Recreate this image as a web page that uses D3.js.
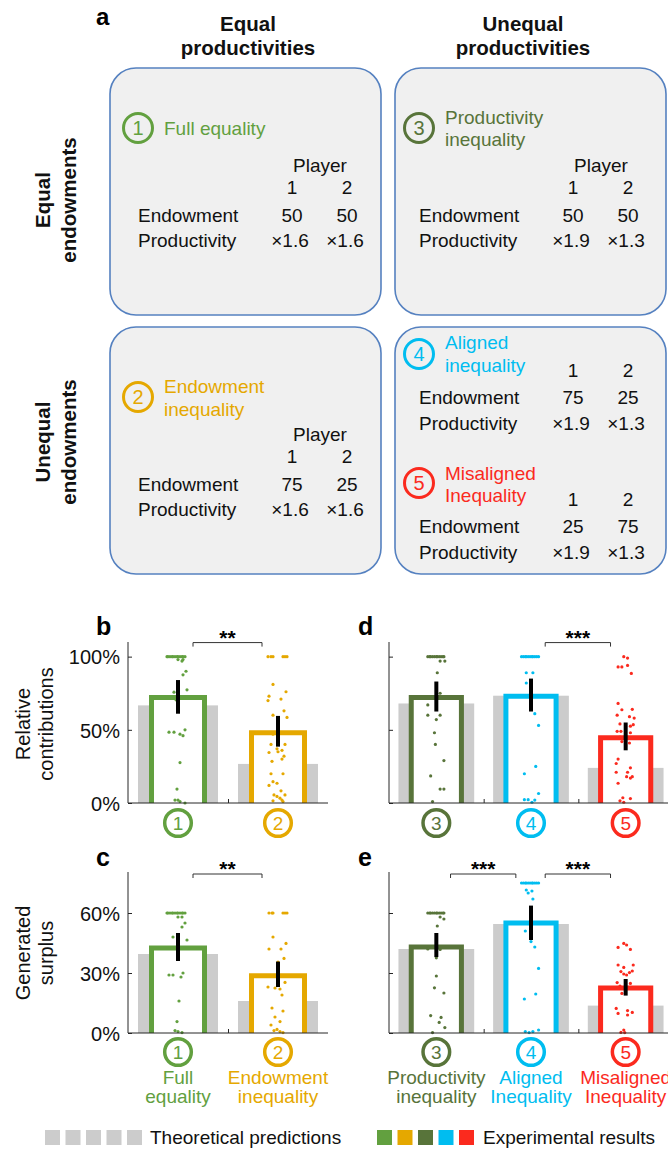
<!DOCTYPE html>
<html><head><meta charset="utf-8">
<script src="https://cdn.jsdelivr.net/npm/d3@7"></script>
<style>
body{margin:0;background:#fff}
svg{display:block;font-family:"Liberation Sans",Arial,sans-serif}
</style></head><body>
<svg id="chart" width="668" height="1151"></svg>
<script>
// ---------- data ----------
const condNumbers = ["1","2","3","4","5"];
const condLabelTop = ["Full","Endowment","Productivity","Aligned","Misaligned"];
const condLabelBottom = ["equality","inequality","inequality","Inequality","Inequality"];
const condColors = ["#62a03f","#e5a800","#58743a","#00bdf0","#fb2a1e"];

const contribTheory = [0.667,0.267,0.68,0.733,0.24];
const contribMean   = [0.72,0.48,0.72,0.73,0.445];
const contribLow    = [0.61,0.385,0.625,0.625,0.36];
const contribHigh   = [0.84,0.595,0.83,0.85,0.55];

const surplusTheory = [0.395,0.16,0.42,0.545,0.137];
const surplusMean   = [0.425,0.286,0.43,0.55,0.225];
const surplusLow    = [0.36,0.23,0.38,0.465,0.187];
const surplusHigh   = [0.50,0.357,0.50,0.637,0.27];

const contribTicks = [0,0.5,1];
const contribTickLabels = ["0%","50%","100%"];
const surplusTicks = [0,0.3,0.6];
const surplusTickLabels = ["0%","30%","60%"];

// individual observations: [value, jitter (category units)]
const contribDots1 = [[1,-0.11],[1,-0.10],[1,-0.08],[1,-0.06],[1,-0.05],[1,-0.03],[1,-0.01],[1,0.0],[1,0.02],[1,0.04],[1,0.05],[1,0.07],[0.98,0.0],[0.97,0.04],[0.98,0.05],[0.90,0.08],[0.876,0.05],[0.757,-0.04],[0.773,0.09],[0.705,-0.02],[0.484,-0.09],[0.484,-0.04],[0.50,0.07],[0.47,0.02],[0.46,0.05],[0.276,0.02],[0.095,-0.01],[0.02,-0.03],[0.02,0.0],[0.01,0.02],[0.0,0.07]];
const contribDots2 = [[1,-0.10],[1,-0.07],[1,-0.05],[1,0.05],[1,0.07],[1,0.09],[0.81,-0.05],[0.76,0.08],[0.73,-0.09],[0.71,0.03],[0.70,-0.10],[0.63,0.06],[0.60,-0.05],[0.585,0.09],[0.47,-0.05],[0.40,-0.07],[0.40,0.07],[0.37,-0.01],[0.36,0.04],[0.35,0.0],[0.345,-0.09],[0.32,0.06],[0.285,-0.06],[0.30,0.04],[0.20,-0.07],[0.20,0.05],[0.146,-0.05],[0.135,-0.01],[0.12,-0.09],[0.083,0.03],[0.055,-0.04],[0.055,0.07],[0.045,-0.01],[0.033,0.02],[0.02,0.04],[0.015,-0.05],[0.01,0.05]];
const contribDots3 = [[1,-0.09],[1,-0.07],[1,-0.06],[1,-0.04],[1,-0.02],[1,0.0],[1,0.01],[1,0.03],[1,0.05],[1,0.07],[1,0.08],[0.97,0.04],[0.97,0.09],[0.89,0.01],[0.75,0.04],[0.67,-0.09],[0.60,-0.09],[0.60,0.04],[0.57,0.0],[0.48,-0.02],[0.40,-0.01],[0.29,0.08],[0.185,-0.06],[0.095,0.04],[0.095,0.08],[0.01,-0.04]];
const contribDots4 = [[1,-0.10],[1,-0.08],[1,-0.06],[1,-0.05],[1,-0.03],[1,-0.01],[1,0.01],[1,0.02],[1,0.04],[1,0.06],[1,0.08],[0.89,-0.05],[0.89,0.02],[0.82,-0.05],[0.61,0.04],[0.53,0.08],[0.25,0.05],[0.20,-0.07],[0.065,0.08],[0.023,-0.07],[0.023,-0.03],[0.02,0.04],[0.005,0.01]];
const contribDots5 = [[1.0,-0.02],[0.99,0.02],[0.93,-0.08],[0.93,-0.04],[0.94,0.02],[0.885,0.06],[0.68,-0.08],[0.64,0.07],[0.637,-0.04],[0.60,-0.09],[0.59,0.04],[0.58,0.09],[0.54,-0.06],[0.535,0.08],[0.525,0.05],[0.49,-0.09],[0.49,-0.05],[0.48,0.05],[0.45,-0.06],[0.42,-0.04],[0.41,0.04],[0.39,0.0],[0.30,-0.08],[0.27,-0.10],[0.24,0.05],[0.21,0.02],[0.21,-0.10],[0.18,0.07],[0.18,0.01],[0.17,0.05],[0.135,-0.08],[0.036,-0.03],[0.03,0.05],[0.015,-0.06],[0.005,-0.02]];

const surplusDots1 = [[0.6,-0.11],[0.6,-0.10],[0.6,-0.08],[0.6,-0.06],[0.6,-0.05],[0.6,-0.03],[0.6,-0.01],[0.6,0.0],[0.6,0.02],[0.6,0.04],[0.6,0.05],[0.6,0.07],[0.58,0.0],[0.58,0.04],[0.55,0.07],[0.53,0.04],[0.48,-0.05],[0.465,0.09],[0.29,-0.09],[0.29,-0.05],[0.30,0.05],[0.28,0.03],[0.16,0.01],[0.057,-0.01],[0.012,-0.03],[0.007,0.0],[0.002,0.04]];
const surplusDots2 = [[0.6,-0.09],[0.6,-0.06],[0.6,-0.05],[0.6,0.05],[0.6,0.07],[0.6,0.09],[0.48,-0.05],[0.448,0.08],[0.42,-0.09],[0.42,0.03],[0.373,0.06],[0.355,0.0],[0.253,0.07],[0.225,-0.03],[0.22,0.02],[0.23,-0.10],[0.19,0.04],[0.125,-0.06],[0.11,0.05],[0.08,-0.03],[0.057,0.02],[0.04,-0.07],[0.018,-0.01],[0.012,-0.04],[0.007,0.02],[0.002,0.05]];
const surplusDots3 = [[0.6,-0.09],[0.6,-0.07],[0.6,-0.06],[0.6,-0.04],[0.6,-0.02],[0.6,0.0],[0.6,0.01],[0.6,0.03],[0.6,0.05],[0.6,0.07],[0.6,0.08],[0.58,0.04],[0.57,0.08],[0.535,0.01],[0.42,-0.09],[0.418,0.04],[0.376,0.0],[0.285,0.0],[0.226,-0.02],[0.20,0.08],[0.087,-0.06],[0.078,0.05],[0.053,0.03],[0.027,0.09],[0.002,-0.04]];
const surplusDots4 = [[0.75,-0.10],[0.75,-0.08],[0.75,-0.06],[0.75,-0.05],[0.75,-0.03],[0.75,-0.01],[0.75,0.01],[0.75,0.02],[0.75,0.04],[0.75,0.06],[0.75,0.08],[0.715,-0.05],[0.71,0.01],[0.70,-0.03],[0.67,0.02],[0.51,-0.06],[0.457,0.0],[0.43,0.04],[0.323,0.08],[0.195,0.05],[0.17,-0.07],[0.015,0.08],[0.007,-0.06],[0.002,-0.02],[0.007,0.02]];
const surplusDots5 = [[0.448,-0.02],[0.44,0.01],[0.428,-0.08],[0.418,0.05],[0.34,-0.08],[0.34,0.08],[0.328,-0.02],[0.307,-0.05],[0.302,0.04],[0.31,0.07],[0.295,-0.02],[0.29,0.01],[0.252,-0.09],[0.248,0.05],[0.235,-0.06],[0.198,-0.04],[0.123,-0.10],[0.112,0.02],[0.103,0.07],[0.09,0.02],[0.098,-0.08],[0.015,-0.02],[0.003,-0.05],[0.002,-0.01]];

const contribDots = [contribDots1,contribDots2,contribDots3,contribDots4,contribDots5];
const surplusDots = [surplusDots1,surplusDots2,surplusDots3,surplusDots4,surplusDots5];

// scenario tables (panel a)
const scenarioTitles = [["Full equality"],["Endowment","inequality"],["Productivity","inequality"],["Aligned","inequality"],["Misaligned","Inequality"]];
const playerEndow = [[50,50],[75,25],[50,50],[75,25],[25,75]];
const playerProd  = [["×1.6","×1.6"],["×1.6","×1.6"],["×1.9","×1.3"],["×1.9","×1.3"],["×1.9","×1.3"]];
const colHeaders = [["Equal","productivities"],["Unequal","productivities"]];
const rowHeaders = [["Equal","endowments"],["Unequal","endowments"]];

// ---------- drawing ----------
const svg = d3.select("#chart");
const AX = "#262626";
const INK = "#111";

// ===== Panel a =====
const gA = svg.append("g");
gA.append("text").attr("x",96).attr("y",25).attr("font-size",24).attr("font-weight","bold").text("a");
const colX = [248,523];
colHeaders.forEach((h,i)=>{
  const t = gA.append("text").attr("font-size",20.5).attr("font-weight","bold").attr("text-anchor","middle").attr("fill",INK);
  t.append("tspan").attr("x",colX[i]).attr("y",31).text(h[0]);
  t.append("tspan").attr("x",colX[i]).attr("y",55).text(h[1]);
});
const rowY = [200,442];
rowHeaders.forEach((h,i)=>{
  const t = gA.append("text").attr("font-size",20.5).attr("font-weight","bold").attr("text-anchor","middle").attr("fill",INK)
    .attr("transform",`translate(0,${rowY[i]}) rotate(-90)`);
  t.append("tspan").attr("x",0).attr("y",50).text(h[0]);
  t.append("tspan").attr("x",0).attr("y",76).text(h[1]);
});
const boxes = [[110,68],[395,68],[110,327],[395,327]];
boxes.forEach(b=>{
  gA.append("rect").attr("x",b[0]).attr("y",b[1]).attr("width",271).attr("height",247)
    .attr("rx",26).attr("fill","#f0f0f0").attr("stroke","#5581c0").attr("stroke-width",1.6);
});
const blocks = [
  {c:0, dx:0,   cy:128, ty:[135],     py:172,  ny:194, ey:222, ry:247},
  {c:1, dx:0,   cy:397, ty:[393,416], py:441,  ny:463, ey:491, ry:516},
  {c:2, dx:281, cy:128, ty:[124,146], py:172,  ny:194, ey:222, ry:247},
  {c:3, dx:281, cy:354, ty:[349,372], py:null, ny:377, ey:404, ry:430},
  {c:4, dx:281, cy:483, ty:[480,502], py:null, ny:506, ey:533, ry:559}
];
blocks.forEach(bk=>{
  const col = condColors[bk.c];
  const x0 = 138 + bk.dx;
  gA.append("circle").attr("cx",x0).attr("cy",bk.cy).attr("r",14.5).attr("fill","none").attr("stroke",col).attr("stroke-width",3);
  gA.append("text").attr("x",x0).attr("y",bk.cy+7).attr("text-anchor","middle").attr("font-size",20).attr("fill",col).text(condNumbers[bk.c]);
  scenarioTitles[bk.c].forEach((s,i)=>{
    gA.append("text").attr("x",x0+26).attr("y",bk.ty[i]).attr("font-size",19).attr("fill",col).text(s);
  });
  const c1 = 292+bk.dx, c2 = 347+bk.dx;
  const txt = (x,y,s,anchor)=>gA.append("text").attr("x",x).attr("y",y).attr("font-size",19).attr("text-anchor",anchor||"middle").attr("fill",INK).text(s);
  if(bk.py) txt(320+bk.dx,bk.py,"Player");
  txt(c1,bk.ny,"1"); txt(c2,bk.ny,"2");
  txt(x0,bk.ey,"Endowment","start");
  txt(x0,bk.ry,"Productivity","start");
  txt(c1,bk.ey,playerEndow[bk.c][0]); txt(c2,bk.ey,playerEndow[bk.c][1]);
  txt(c1-2,bk.ry,playerProd[bk.c][0]); txt(c2-2,bk.ry,playerProd[bk.c][1]);
});

// ===== Bar panels =====
const panels = [
  {letter:"b", lx:96,  ly:635, conds:[0,1],   x0:128, x1:328, yb:803,  yt:642, ymax:1.1,
   mean:contribMean, low:contribLow, high:contribHigh, theory:contribTheory, dots:contribDots,
   ticks:contribTicks, tlabels:contribTickLabels, cy:823, names:false,
   title:["Relative","contributions"], titleY:724, brackets:[[0,1,"**"]], bry:1.096},
  {letter:"c", lx:96,  ly:866, conds:[0,1],   x0:128, x1:328, yb:1033, yt:872, ymax:0.805,
   mean:surplusMean, low:surplusLow, high:surplusHigh, theory:surplusTheory, dots:surplusDots,
   ticks:surplusTicks, tlabels:surplusTickLabels, cy:1052, names:true,
   title:["Generated","surplus"], titleY:953, brackets:[[0,1,"**"]], bry:0.795},
  {letter:"d", lx:358, ly:635, conds:[2,3,4], x0:389, x1:673, yb:803,  yt:642, ymax:1.1,
   mean:contribMean, low:contribLow, high:contribHigh, theory:contribTheory, dots:contribDots,
   ticks:contribTicks, tlabels:null, cy:823, names:false, title:null, brackets:[[1,2,"***"]], bry:1.096},
  {letter:"e", lx:358, ly:866, conds:[2,3,4], x0:389, x1:673, yb:1033, yt:872, ymax:0.805,
   mean:surplusMean, low:surplusLow, high:surplusHigh, theory:surplusTheory, dots:surplusDots,
   ticks:surplusTicks, tlabels:null, cy:1052, names:true, title:null, brackets:[[0,1,"***"],[1,2,"***"]], bry:0.795}
];

panels.forEach(p=>{
  const n = p.conds.length;
  const x = d3.scaleLinear().domain([0.5, n+0.5]).range([p.x0, p.x1]);
  const y = d3.scaleLinear().domain([0, p.ymax]).range([p.yb, p.yt]);
  const u = x(1)-x(0);
  const g = svg.append("g");
  g.append("text").attr("x",p.lx).attr("y",p.ly).attr("font-size",25).attr("font-weight","bold").text(p.letter);

  p.conds.forEach((c,i)=>{
    const cx = x(i+1);
    g.append("rect").attr("x",cx-0.4*u).attr("width",0.8*u)
      .attr("y",y(p.theory[c])).attr("height",y(0)-y(p.theory[c])).attr("fill","#cccccc");
  });
  p.conds.forEach((c,i)=>{
    const cx = x(i+1), hw = 0.265*u;
    g.append("path").attr("d",`M${cx-hw},${y(0)}V${y(p.mean[c])}H${cx+hw}V${y(0)}`)
      .attr("fill","#fff").attr("stroke",condColors[c]).attr("stroke-width",5).attr("stroke-linejoin","miter");
  });
  p.conds.forEach((c,i)=>{
    g.append("g").selectAll("circle").data(p.dots[c]).join("circle")
      .attr("cx",d=>x(i+1+d[1])).attr("cy",d=>y(d[0])).attr("r",1.6).attr("fill",condColors[c]);
  });
  p.conds.forEach((c,i)=>{
    const cx = x(i+1);
    g.append("line").attr("x1",cx).attr("x2",cx).attr("y1",y(p.low[c])).attr("y2",y(p.high[c]))
      .attr("stroke","#000").attr("stroke-width",4);
  });
  const yAxis = d3.axisLeft(y).tickValues(p.ticks).tickSize(-4).tickPadding(8)
    .tickFormat((d,i)=>p.tlabels?p.tlabels[i]:"");
  const ya = g.append("g").attr("transform",`translate(${p.x0},0)`).call(yAxis);
  ya.select(".domain").attr("stroke",AX).attr("d",`M0,${p.yt}V${p.yb}`);
  ya.selectAll(".tick line").attr("stroke",AX);
  ya.selectAll("text").attr("font-size",20).attr("fill",INK).attr("font-family","Liberation Sans, Arial, sans-serif").attr("dy","0.36em");
  const xTicks = d3.range(1, n).map(v=>v+0.5);
  const xAxis = d3.axisBottom(x).tickValues(xTicks).tickSize(-4).tickFormat("");
  const xa = g.append("g").attr("transform",`translate(0,${p.yb})`).call(xAxis);
  xa.select(".domain").attr("stroke",AX).attr("d",`M${p.x0},0H${p.x1}`);
  xa.selectAll(".tick line").attr("stroke",AX);

  p.brackets.forEach(br=>{
    const xa1 = x(br[0]+1+0.15), xa2 = x(br[1]+1-0.16), yy = y(p.bry);
    g.append("path").attr("d",`M${xa1},${yy+4}V${yy}H${xa2}V${yy+4}`).attr("fill","none").attr("stroke","#333").attr("stroke-width",1);
    g.append("text").attr("x",(xa1+xa2)/2).attr("y",yy+2).attr("text-anchor","middle")
      .attr("font-size",21).attr("font-weight","bold").text(br[2]);
  });

  p.conds.forEach((c,i)=>{
    const cx = x(i+1);
    g.append("circle").attr("cx",cx).attr("cy",p.cy).attr("r",13.3).attr("fill","none")
      .attr("stroke",condColors[c]).attr("stroke-width",3.5);
    g.append("text").attr("x",cx).attr("y",p.cy+7).attr("text-anchor","middle").attr("font-size",19)
      .attr("fill",condColors[c]).text(condNumbers[c]);
    if(p.names){
      g.append("text").attr("x",cx).attr("y",1084).attr("text-anchor","middle").attr("font-size",19).attr("fill",condColors[c]).text(condLabelTop[c]);
      g.append("text").attr("x",cx).attr("y",1103).attr("text-anchor","middle").attr("font-size",19).attr("fill",condColors[c]).text(condLabelBottom[c]);
    }
  });

  if(p.title){
    const t = g.append("text").attr("font-size",20).attr("text-anchor","middle").attr("fill",INK)
      .attr("transform",`translate(0,${p.titleY}) rotate(-90)`);
    t.append("tspan").attr("x",0).attr("y",30).text(p.title[0]);
    t.append("tspan").attr("x",0).attr("y",53).text(p.title[1]);
  }
});

// ===== Legend =====
const lg = svg.append("g");
d3.range(5).forEach(i=>{
  lg.append("rect").attr("x",45+i*20.5).attr("y",1130).attr("width",15).attr("height",15).attr("fill","#cccccc");
  lg.append("rect").attr("x",377+i*20.5).attr("y",1130).attr("width",15).attr("height",15).attr("fill",condColors[i]);
});
lg.append("text").attr("x",150).attr("y",1144).attr("font-size",19).attr("fill",INK).text("Theoretical predictions");
lg.append("text").attr("x",483).attr("y",1144).attr("font-size",19).attr("fill",INK).text("Experimental results");
</script>
</body></html>
